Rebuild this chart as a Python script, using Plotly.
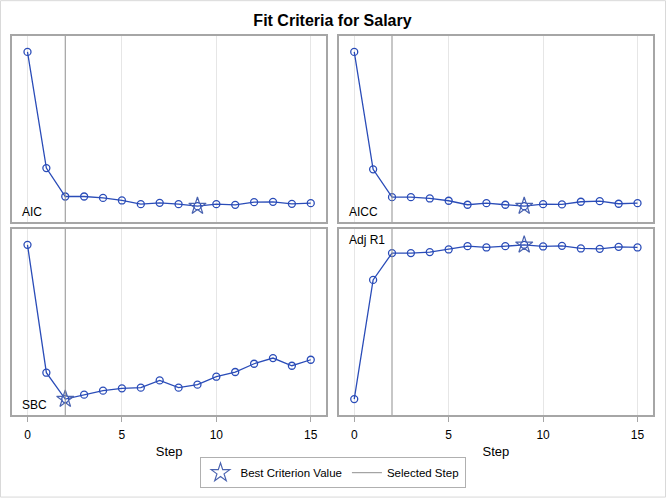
import plotly.graph_objects as go
from plotly.subplots import make_subplots

steps = list(range(16))
aic = [2835.3, 2718.3, 2689.7, 2689.7, 2688.3, 2685.7, 2682.0, 2683.3,
       2682.0, 2680.0, 2682.0, 2681.3, 2684.0, 2684.3, 2682.3, 2683.0]
aicc = [2838.3, 2720.3, 2692.3, 2692.3, 2691.0, 2688.7, 2684.7, 2686.3,
        2684.7, 2683.3, 2685.3, 2685.0, 2687.7, 2688.3, 2685.7, 2686.3]
sbc = [2854.3, 2726.0, 2699.5, 2704.0, 2708.0, 2710.3, 2711.0, 2718.3,
       2711.0, 2714.0, 2722.0, 2726.7, 2735.0, 2740.7, 2733.0, 2739.0]
adjr = [0.0000, 0.3954, 0.4842, 0.4842, 0.4875, 0.4963, 0.5072, 0.5029,
        0.5072, 0.5115, 0.5062, 0.5082, 0.4996, 0.4983, 0.5049, 0.5029]

panels = [
    ("AIC", aic, "min", 1, 1, "bottom"),
    ("AICC", aicc, "min", 1, 2, "bottom"),
    ("SBC", sbc, "min", 2, 1, "bottom"),
    ("Adj R1", adjr, "max", 2, 2, "top"),
]
selected_step = 2
tick_vals = [0, 5, 10, 15]

W, H = 666, 500
ML, MR, MT, MB = 12, 13, 36, 83
PW, PH = W - ML - MR, H - MT - MB

LINE = "#2a4cb8"
STAR = "#4a63b0"
GRID = "#e6e6e6"
FRAME = "#a6a6a6"
SEL = "#8f8f8f"
FONT = "Liberation Sans, Arial, sans-serif"

fig = make_subplots(rows=2, cols=2, shared_xaxes=True,
                    horizontal_spacing=12.5 / PW, vertical_spacing=7 / PH)

for name, vals, best, r, c, pos in panels:
    fig.add_trace(go.Scatter(
        x=steps, y=vals, mode="lines+markers",
        line=dict(color=LINE, width=1.3),
        marker=dict(symbol="circle-open", size=7, color=LINE, line=dict(width=1.3)),
        showlegend=False, hoverinfo="x+y"), row=r, col=c)
    bi = vals.index(min(vals) if best == "min" else max(vals))
    fig.add_trace(go.Scatter(
        x=[steps[bi]], y=[vals[bi]], mode="markers",
        marker=dict(symbol="star-open", size=13, color=STAR, line=dict(width=1.2)),
        showlegend=False), row=r, col=c)
    lo, hi = min(vals), max(vals)
    pad = (hi - lo) * 0.103
    fig.update_yaxes(range=[lo - pad, hi + pad], row=r, col=c)
    idx = (r - 1) * 2 + c
    xref = "x domain" if idx == 1 else f"x{idx} domain"
    yref = "y domain" if idx == 1 else f"y{idx} domain"
    fig.add_shape(type="line", xref=xref.replace(" domain", ""), yref=yref,
                  x0=selected_step, x1=selected_step, y0=0, y1=1,
                  line=dict(color=SEL, width=1), layer="above")
    ya = 0.055 if pos == "bottom" else 0.94
    fig.add_annotation(xref=xref, yref=yref, x=0.026, y=ya, text=name,
                       showarrow=False, xanchor="left", yanchor="middle",
                       font=dict(family=FONT, size=12, color="#000"))

# legend-only traces
fig.add_trace(go.Scatter(x=[None], y=[None], mode="markers", name="Best Criterion Value",
                         marker=dict(symbol="star-open", size=14, color=STAR, line=dict(width=1.2))),
              row=2, col=1)
fig.add_trace(go.Scatter(x=[None], y=[None], mode="lines", name="Selected Step",
                         line=dict(color=SEL, width=1)), row=2, col=1)

fig.update_xaxes(range=[-0.82, 15.82], tickvals=tick_vals, showgrid=True, gridcolor=GRID,
                 gridwidth=1, zeroline=False, showline=True, linecolor=FRAME, linewidth=1.5,
                 mirror=True, tickfont=dict(family=FONT, size=12, color="#000"))
fig.update_xaxes(ticks="outside", ticklen=5, tickcolor=FRAME, ticklabelstandoff=3,
                 title=dict(text="Step", font=dict(family=FONT, size=13, color="#000"), standoff=6),
                 row=2)
fig.update_xaxes(showticklabels=False, ticks="", row=1)
fig.update_yaxes(showticklabels=False, showgrid=False, zeroline=False, ticks="",
                 showline=True, linecolor=FRAME, linewidth=1.5, mirror=True)

# outer image frame
fig.add_shape(type="rect", xref="paper", yref="paper",
              x0=-(ML - 0.5) / PW, x1=1 + (MR - 0.5) / PW,
              y0=-(MB - 0.5) / PH, y1=1 + (MT - 0.5) / PH,
              line=dict(color="#d9d9d9", width=1), layer="below")

fig.update_layout(
    width=W, height=H,
    margin=dict(l=ML, r=MR, t=MT, b=MB),
    paper_bgcolor="white", plot_bgcolor="white",
    title=dict(text="<b>Fit Criteria for Salary</b>", x=0.5, xref="paper", y=1 - 20.5 / H,
               yanchor="middle", xanchor="center",
               font=dict(family=FONT, size=16, color="#000")),
    showlegend=True,
    legend=dict(orientation="h", x=0.5, xanchor="center", xref="paper",
                y=-(475 - MT - PH) / PH, yanchor="middle", yref="paper",
                bordercolor="#b0b0b0", borderwidth=1, bgcolor="white",
                font=dict(family=FONT, size=11.5, color="#000"),
                itemsizing="trace", tracegroupgap=0),
    hovermode="closest",
)

fig.write_html("out.html", config={"displayModeBar": False},
               post_script="document.body.style.margin='0px';")
